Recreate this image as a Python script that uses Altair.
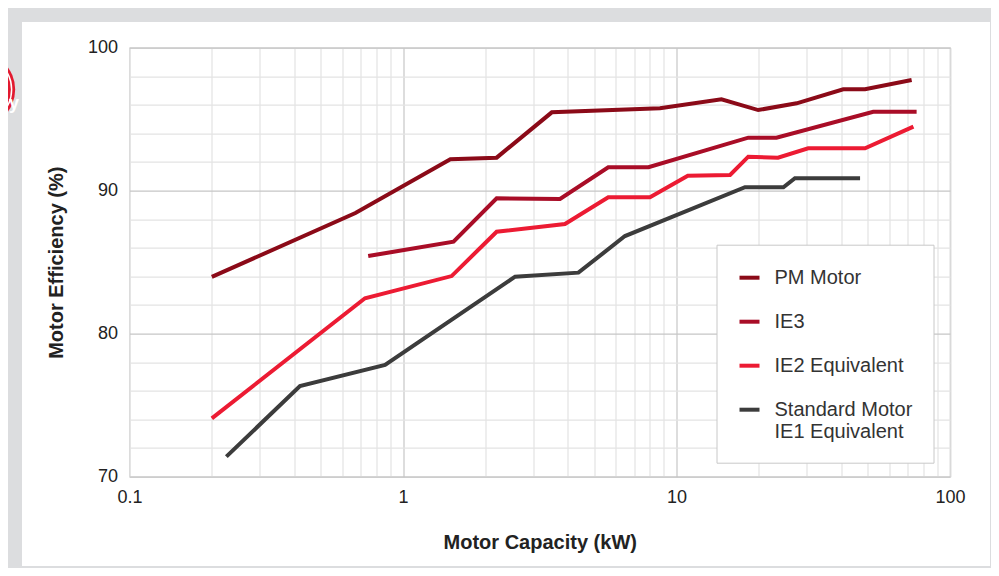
import altair as alt
import pandas as pd

# ---------------- data ----------------
series_names = ["PM Motor", "IE3", "IE2 Equivalent", "Standard Motor IE1 Equivalent"]
series_colors = ["#8b0a18", "#a90d27", "#ec1b33", "#3c3c3c"]

pm_kw = [0.2, 0.67, 1.49, 2.2, 3.5, 8.7, 14.6, 19.9, 27.5, 40.7, 48.9, 72.4]
pm_eff = [83.97, 88.44, 92.2, 92.31, 95.48, 95.76, 96.39, 95.64, 96.11, 97.09, 97.09, 97.74]

ie3_kw = [0.746, 1.53, 2.2, 3.75, 5.63, 7.9, 18.3, 23.2, 52.4, 75.5]
ie3_eff = [85.43, 86.43, 89.47, 89.42, 91.64, 91.64, 93.71, 93.71, 95.52, 95.52]

ie2_kw = [0.2, 0.726, 1.506, 2.2, 3.91, 5.63, 8.0, 11.0, 15.7, 18.3, 23.5, 30.3, 48.9, 73.5]
ie2_eff = [74.08, 82.48, 84.03, 87.13, 87.67, 89.54, 89.54, 91.05, 91.1, 92.38, 92.31, 92.97, 92.97, 94.48]

std_kw = [0.226, 0.42, 0.86, 2.57, 4.38, 6.48, 17.8, 24.6, 27.1, 46.9]
std_eff = [71.40, 76.34, 77.81, 83.99, 84.27, 86.83, 90.24, 90.24, 90.87, 90.87]

x_ticks = [0.1, 0.2, 0.3, 0.4, 0.5, 0.6, 0.7, 0.8, 0.9,
           1, 2, 3, 4, 5, 6, 7, 8, 9,
           10, 20, 30, 40, 50, 60, 70, 80, 90, 100]
x_labels = ["0.1", "1", "10", "100"]
y_ticks = [70, 72, 74, 76, 78, 80, 82, 84, 86, 88, 90, 92, 94, 96, 98, 100]
y_labels = ["70", "80", "90", "100"]

rows = []
for name, xs, ys in zip(series_names,
                        [pm_kw, ie3_kw, ie2_kw, std_kw],
                        [pm_eff, ie3_eff, ie2_eff, std_eff]):
    for i, (xv, yv) in enumerate(zip(xs, ys)):
        rows.append({"series": name, "kw": xv, "eff": yv, "order": i})
df = pd.DataFrame(rows)

FONT = "Liberation Sans"
x_label_expr = "indexof(" + str(x_labels) + ", datum.label) >= 0 ? datum.label : ''"
y_label_expr = "indexof(" + str(y_labels) + ", datum.label) >= 0 ? datum.label : ''"

lines = alt.Chart(df).mark_line(strokeWidth=4, clip=True).encode(
    x=alt.X("kw:Q",
            scale=alt.Scale(type="log", domain=[0.1, 100], nice=False),
            axis=alt.Axis(values=x_ticks, labelExpr=x_label_expr, format="~g",
                          title="Motor Capacity (kW)", grid=True,
                          gridColor={"condition": {"test": "datum.value == 1 || datum.value == 10",
                                                   "value": "#c6c6c6"}, "value": "#e3e3e3"},
                          gridWidth=1.2,
                          ticks=False, domain=False, labelOverlap=False, labelFlush=False,
                          labelPadding=12, labelFontSize=18, labelColor="#222",
                          titleFontSize=20, titleFontWeight="bold", titleColor="#222",
                          titlePadding=26)),
    y=alt.Y("eff:Q",
            scale=alt.Scale(domain=[70, 100], nice=False, zero=False),
            axis=alt.Axis(values=y_ticks, labelExpr=y_label_expr,
                          title="Motor Efficiency (%)", grid=True,
                          gridColor={"condition": {"test": "datum.value % 10 == 0",
                                                   "value": "#c6c6c6"}, "value": "#e3e3e3"},
                          gridWidth=1.2,
                          ticks=False, domain=False, labelOverlap=False,
                          labelPadding=12, labelFontSize=18, labelColor="#222",
                          titleFontSize=20, titleFontWeight="bold", titleColor="#222",
                          titlePadding=21)),
    color=alt.Color("series:N",
                    scale=alt.Scale(domain=series_names, range=series_colors),
                    legend=alt.Legend(
                        title=None, orient="none", legendX=587, legendY=197,
                        fillColor="white", strokeColor="#c8c8c8", padding=21,
                        symbolType="stroke", symbolStrokeWidth=4, symbolSize=400,
                        labelFontSize=20, labelColor="#333", labelOffset=13,
                        rowPadding=22, labelLimit=400,
                        labelExpr="datum.label == 'Standard Motor IE1 Equivalent' ? ['Standard Motor', 'IE1 Equivalent'] : datum.label")),
    order="order:Q",
)

one = pd.DataFrame({"k": [0]})
frame_color = "#dcdddf"

def strip(x1, x2, y1, y2):
    return alt.Chart(one).mark_rect(color=frame_color).encode(
        x=alt.value(x1), x2=alt.value(x2), y=alt.value(y1), y2=alt.value(y2))

strips = [
    strip(-121.5, 861.5, -39.7, -25.7),
    strip(-121.5, -107.5, -25.7, 520.3),
    strip(860.5, 861.5, -39.7, 520.3),
    strip(-121.5, 861.5, 518.3, 520.3),
]

badge = alt.Chart(one).mark_circle(color="#e2192f", opacity=1, size=5674).encode(
    x=alt.value(-152), y=alt.value(41.8))
ring = alt.Chart(one).mark_point(shape="circle", filled=False, stroke="white",
                                 strokeWidth=1.5, opacity=1, size=4657).encode(
    x=alt.value(-152), y=alt.value(41.8))
badge_text = alt.Chart(one).mark_text(text="y", color="white", font=FONT, fontSize=18,
                                      fontWeight="bold", align="left", baseline="alphabetic").encode(
    x=alt.value(-120.5), y=alt.value(61))

chart = alt.layer(*strips, badge, ring, badge_text, lines).properties(
    width=820.5, height=429,
    padding={"left": 121.5, "top": 39.7, "right": 41, "bottom": 91.3},
    autosize=alt.AutoSizeParams(type="none"),
    background="white",
).configure(font=FONT).configure_view(stroke="#c6c6c6", strokeWidth=1.2)

chart.save("out.html", embed_options={"renderer": "svg", "actions": False})
